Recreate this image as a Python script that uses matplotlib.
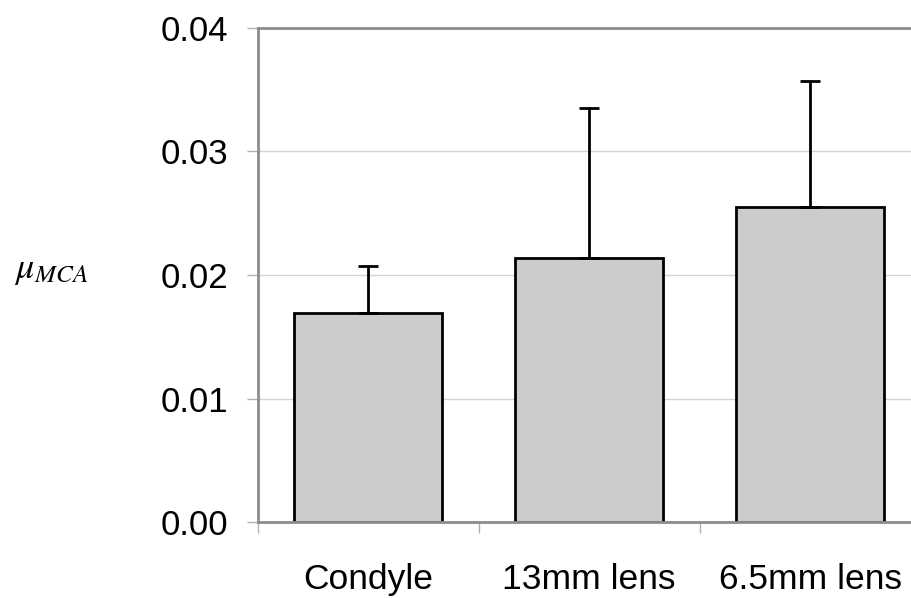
import numpy as np
import matplotlib.pyplot as plt

plt.rcParams['font.family'] = ['Liberation Sans', 'DejaVu Sans']
plt.rcParams['mathtext.fontset'] = 'stix'

categories = ['Condyle', '13mm lens', '6.5mm lens']
means = [0.0169, 0.0214, 0.0255]
errors = [0.00385, 0.0121, 0.0102]
yticks = [0.00, 0.01, 0.02, 0.03, 0.04]

fig = plt.figure(figsize=(9.11, 5.98), dpi=100)
# plot area runs slightly past the right edge of the picture, as in the original crop
ax = fig.add_axes([257.7 / 911, 75.7 / 598, 663 / 911, 494.6 / 598])

x = np.arange(len(categories))
ax.bar(x, means, width=0.67, color='#cccccc', edgecolor='black', linewidth=2, zorder=2)
ax.errorbar(x, means, yerr=[np.zeros(len(errors)), errors], fmt='none',
            ecolor='black', elinewidth=2, capsize=7, capthick=2, zorder=3)

ax.set_xlim(-0.5, 2.5)
ax.set_ylim(0, 0.04)
ax.set_yticks(yticks)
ax.set_yticklabels([f'{v:.2f}' for v in yticks], fontsize=25)
ax.yaxis.grid(True, color='#d4d4d4', linewidth=1)
ax.set_axisbelow(True)

ax.set_xticks(x)
ax.set_xticklabels(categories, fontsize=25.5)
ax.set_xticks(np.arange(-0.5, 2.5, 1.0), minor=True)
ax.tick_params(axis='x', which='major', length=0, pad=29)
ax.tick_params(axis='x', which='minor', length=8, color='#b0b0b0', width=1)
ax.tick_params(axis='y', length=8, color='#b0b0b0', width=1, pad=13)

for side in ['left', 'top', 'bottom']:
    ax.spines[side].set_color('#8c8c8c')
    ax.spines[side].set_linewidth(2)
ax.spines['right'].set_visible(False)

fig.text(14 / 911, 1 - 270 / 598, r'$\mu_{MCA}$', fontsize=26, ha='left', va='center')

fig.savefig('out.png', dpi=100)
